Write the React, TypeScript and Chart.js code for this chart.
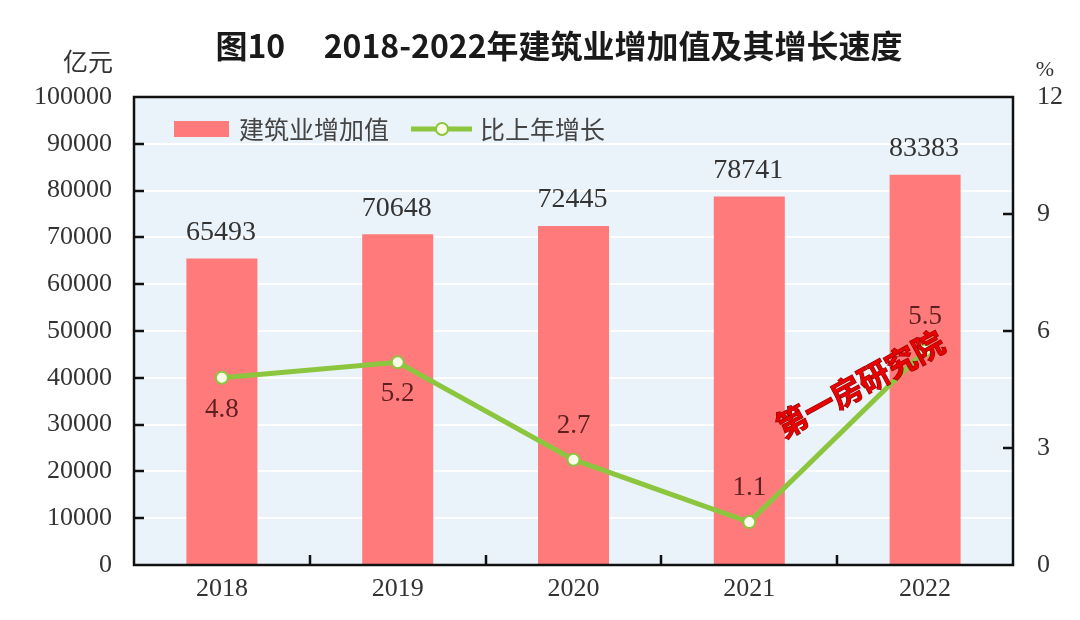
import React, { useEffect, useRef } from 'react';
import { Chart, registerables } from 'chart.js';

Chart.register(...registerables);

// ---- data ----
const categories = ['2018', '2019', '2020', '2021', '2022'];
const valueAdded = [65493, 70648, 72445, 78741, 83383];
const growthRate = [4.8, 5.2, 2.7, 1.1, 5.5];
const growthLabelSide = ['below', 'below', 'above', 'above', 'above'];

const titleText = '图10\u3000\u20092018-2022年建筑业增加值及其增长速度';
const leftUnit = '亿元';
const rightUnit = '%';
const barName = '建筑业增加值';
const lineName = '比上年增长';
const watermarkText = '第一房研究院';

// ---- styles ----
const SERIF = '"Liberation Serif", "Times New Roman", serif';
const SANS = '"Noto Sans CJK SC", "Noto Sans", sans-serif';
const BAR_COLOR = '#ff7a7a';
const LINE_COLOR = '#8cc63f';
const PLOT_BG = '#eaf3f9';

const decorPlugin = {
  id: 'decor',
  beforeDraw(chart: any) {
    const { ctx, chartArea: a } = chart;
    ctx.save();
    ctx.fillStyle = '#ffffff';
    ctx.fillRect(0, 0, chart.width, chart.height);
    ctx.fillStyle = PLOT_BG;
    ctx.fillRect(a.left, a.top, a.right - a.left, a.bottom - a.top);
    ctx.restore();
  },
  afterDatasetsDraw(chart: any) {
    const { ctx } = chart;
    ctx.save();
    ctx.textAlign = 'center';
    ctx.textBaseline = 'middle';
    // bar value labels
    const barMeta = chart.getDatasetMeta(0);
    ctx.font = `28px ${SERIF}`;
    ctx.fillStyle = '#333333';
    barMeta.data.forEach((el: any, i: number) => {
      ctx.fillText(String(valueAdded[i]), el.x - 1, el.y - 26);
    });
    // line value labels
    const lineMeta = chart.getDatasetMeta(1);
    ctx.font = `27px ${SERIF}`;
    ctx.fillStyle = '#5e1f1f';
    lineMeta.data.forEach((el: any, i: number) => {
      const dy = growthLabelSide[i] === 'below' ? 32 : -34;
      ctx.fillText(growthRate[i].toFixed(1), el.x, el.y + dy);
    });
    ctx.restore();
  },
  afterDraw(chart: any) {
    const { ctx, chartArea: a } = chart;
    const yL = chart.scales.y;
    const yR = chart.scales.y1;
    const x = chart.scales.x;
    ctx.save();
    // inward tick marks
    ctx.strokeStyle = '#111111';
    ctx.lineWidth = 2.5;
    ctx.beginPath();
    for (let v = 10000; v < 100000; v += 10000) {
      const py = Math.round(yL.getPixelForValue(v));
      ctx.moveTo(a.left, py);
      ctx.lineTo(a.left + 10, py);
    }
    for (let v = 3; v < 12; v += 3) {
      const py = Math.round(yR.getPixelForValue(v));
      ctx.moveTo(a.right, py);
      ctx.lineTo(a.right - 10, py);
    }
    for (let i = 0; i < categories.length - 1; i++) {
      const px = Math.round((x.getPixelForValue(i) + x.getPixelForValue(i + 1)) / 2);
      ctx.moveTo(px, a.bottom);
      ctx.lineTo(px, a.bottom - 10);
    }
    ctx.stroke();
    // frame
    ctx.lineWidth = 2.5;
    ctx.strokeRect(a.left, a.top, a.right - a.left, a.bottom - a.top);

    // title
    ctx.fillStyle = '#1a1a1a';
    ctx.textAlign = 'center';
    ctx.textBaseline = 'middle';
    ctx.font = `bold 32px ${SANS}`;
    ctx.fillText(titleText, 559, 46);

    // units
    ctx.fillStyle = '#333333';
    ctx.font = `25px ${SANS}`;
    ctx.textAlign = 'right';
    ctx.fillText(leftUnit, 113, 61);
    ctx.textAlign = 'center';
    ctx.font = `22px ${SERIF}`;
    ctx.fillText(rightUnit, 1045, 70);

    // legend
    const ly = 129;
    ctx.fillStyle = BAR_COLOR;
    ctx.fillRect(174, 121, 55, 16);
    ctx.fillStyle = '#444444';
    ctx.font = `25px ${SANS}`;
    ctx.textAlign = 'left';
    ctx.fillText(barName, 239, ly);
    ctx.strokeStyle = LINE_COLOR;
    ctx.lineWidth = 5;
    ctx.beginPath();
    ctx.moveTo(411, ly);
    ctx.lineTo(472, ly);
    ctx.stroke();
    ctx.beginPath();
    ctx.arc(442, ly, 6, 0, Math.PI * 2);
    ctx.fillStyle = '#fbfde9';
    ctx.fill();
    ctx.lineWidth = 2;
    ctx.stroke();
    ctx.fillStyle = '#444444';
    ctx.fillText(lineName, 480, ly);

    // watermark
    ctx.translate(860, 384);
    ctx.rotate(-0.5);
    ctx.font = `bold 31px ${SANS}`;
    ctx.textAlign = 'center';
    ctx.lineWidth = 1.2;
    ctx.strokeStyle = '#8a0000';
    ctx.strokeText(watermarkText, 0, 0);
    ctx.fillStyle = '#e60000';
    ctx.fillText(watermarkText, 0, 0);
    ctx.restore();
  },
};

export default function App() {
  const ref = useRef<HTMLCanvasElement | null>(null);

  useEffect(() => {
    if (!ref.current) return;
    const chart = new Chart(ref.current, {
      type: 'bar',
      data: {
        labels: categories,
        datasets: [
          {
            type: 'bar',
            label: barName,
            data: valueAdded,
            backgroundColor: BAR_COLOR,
            borderWidth: 0,
            categoryPercentage: 1,
            barPercentage: 0.404,
            yAxisID: 'y',
            order: 1,
          },
          {
            type: 'line',
            label: lineName,
            data: growthRate,
            borderColor: LINE_COLOR,
            borderWidth: 5,
            pointRadius: 6,
            pointBackgroundColor: '#fbfde9',
            pointBorderColor: LINE_COLOR,
            pointBorderWidth: 2,
            tension: 0,
            yAxisID: 'y1',
            order: 0,
          } as any,
        ],
      },
      options: {
        responsive: false,
        animation: false,
        layout: { padding: { top: 97, left: 0, right: 0, bottom: 0 } },
        plugins: {
          legend: { display: false },
          title: { display: false },
          tooltip: { enabled: false },
        },
        scales: {
          x: {
            offset: true,
            grid: { display: false, drawTicks: false },
            border: { display: false },
            ticks: { font: { size: 26, family: SERIF }, color: '#333333', padding: 9 },
            afterFit: (s: any) => { s.height = 55; },
          },
          y: {
            position: 'left',
            min: 0,
            max: 100000,
            ticks: {
              stepSize: 10000,
              font: { size: 26, family: SERIF },
              color: '#333333',
              padding: 22,
              callback: (v: any) => String(v),
            },
            grid: { color: '#ffffff', lineWidth: 2, drawTicks: false },
            border: { display: false },
            afterFit: (s: any) => { s.width = 134; },
          },
          y1: {
            position: 'right',
            min: 0,
            max: 12,
            ticks: {
              stepSize: 3,
              font: { size: 26, family: SERIF },
              color: '#333333',
              padding: 24,
              callback: (v: any) => String(v),
            },
            grid: { display: false, drawTicks: false },
            border: { display: false },
            afterFit: (s: any) => { s.width = 67; },
          },
        },
      } as any,
      plugins: [decorPlugin],
    });
    return () => chart.destroy();
  }, []);

  return (
    <div style={{ position: 'absolute', left: 0, top: 0, width: 1080, height: 620 }}>
      <canvas ref={ref} width={1080} height={620} style={{ display: 'block', width: 1080, height: 620 }} />
    </div>
  );
}
